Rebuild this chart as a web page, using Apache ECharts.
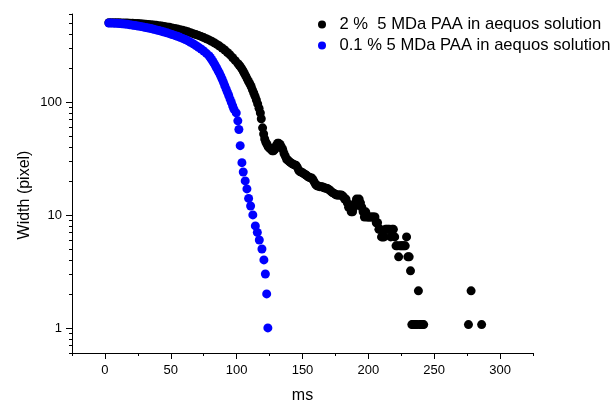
<!DOCTYPE html>
<html>
<head>
<meta charset="utf-8">
<script src="https://cdn.jsdelivr.net/npm/echarts@6/dist/echarts.min.js"></script>
<style>
  html, body { margin: 0; padding: 0; background: #fff; }
  #chart { width: 615px; height: 401px; }
</style>
</head>
<body>
<div id="chart"></div>
<script>
// Jet width versus time for two PAA solutions (log scale on width).
const seriesNames = [
  '2 %  5 MDa PAA in aequos solution',
  '0.1 % 5 MDa PAA in aequos solution'
];

// 2 % solution: time (ms) and width (pixel)
const blackTime = [
  3, 5, 7, 9, 11, 13, 15, 17, 19, 21, 23, 25, 27, 29, 31, 33, 35, 37, 39, 41,
  43, 45, 47, 49, 51, 53, 55, 57, 59, 61, 63, 65, 67, 69, 71, 73, 75, 77, 79, 81,
  83, 85, 87, 89, 91, 93, 95, 97, 99, 101,
  102, 103, 104, 105, 106, 107, 108, 109, 110, 111, 112, 113, 114, 115, 116, 117, 118,
  118.7, 119.7, 120.5, 121.3, 122.2, 123.1,
  124, 125, 126, 127, 128, 129, 130, 131, 132, 133, 134, 135, 136, 137, 138, 139, 140,
  141, 142, 143, 144, 145, 146, 147, 148, 149, 150, 151, 152, 153, 154, 155, 156, 157,
  158, 159, 160, 161, 162, 163, 164, 165, 166, 167, 168, 169, 170, 171, 172, 173, 174,
  175, 176, 177, 178, 179, 180, 181, 182, 183, 184, 185, 186, 187, 188, 189, 190, 191,
  192, 193, 194, 195, 196, 197, 198, 199, 200, 201, 202, 203, 204, 205, 206, 207, 208,
  209, 210, 211, 212, 213, 214, 215, 216, 217, 218, 219, 220, 221, 222, 223, 224, 225,
  226, 227, 228, 229, 230, 231, 232, 233, 234, 235, 236, 237, 238, 239, 240, 241, 242,
  276, 278, 286
];
const blackWidth = [
  502, 502, 502, 501, 501, 500, 500, 499, 498, 497, 495, 494, 492, 490, 488, 485, 482, 479, 476, 473,
  469, 465, 461, 457, 452, 447, 442, 436, 430, 424, 417, 410, 402, 395, 388, 380, 371, 362, 354, 344,
  334, 323, 312, 300, 288, 274, 261, 246, 232, 218,
  211, 204, 196, 187, 178, 169, 160, 152, 145, 137, 128, 120, 112, 104, 96, 88, 80,
  71, 59, 52, 47, 44, 42,
  40, 39, 38, 37, 37, 38, 41, 43, 43, 42, 40, 38, 35, 33, 31, 30.5, 29.6,
  29, 28.5, 28, 27.7, 27.5, 26.5, 25, 24.2, 24, 23.6, 23.2, 22.8, 22.4, 21.9, 21.5, 21.3, 21.2,
  20.5, 19.5, 18.6, 18.1, 18, 17.8, 17.8, 17.8, 17.5, 17.3, 17.2, 17.1, 16.8, 16.4, 16, 15.7, 15.5,
  15.2, 15, 15, 15, 15, 14.9, 14.5, 13.8, 13.8, 12.8, 11.7, 11.7, 10.65, 10.65, 11.7, 12.8, 13.8,
  12.8, 13.8, 12.8, 11.7, 10.65, 9.59, 10.65, 9.59, 9.59, 9.59, 9.59, 9.59, 9.59, 9.59, 8.52, 8.52, 7.46,
  7.46, 6.39, 6.39, 6.39, 7.46, 7.46, 7.46, 7.46, 6.39, 7.46, 7.46, 6.39, 5.33, 5.33, 4.26, 5.33, 5.33,
  5.33, 5.33, 5.33, 6.39, 4.26, 4.26, 3.2, 1.07, 1.07, 1.07, 1.07, 1.07, 2.13, 1.07, 1.07, 1.07, 1.07,
  1.07, 2.13, 1.07
];

// 0.1 % solution: time (ms) and width (pixel)
const blueTime = [
  3, 5, 7, 9, 11, 13, 15, 17, 19, 21, 23, 25, 27, 29, 31, 33, 35, 37, 39, 41,
  43, 45, 47, 49, 51, 53, 55, 57, 59, 61, 63, 65, 67, 69, 71, 73, 75, 77, 79,
  80, 81, 82, 83, 84, 85, 86, 87, 88, 89, 90, 91, 92, 93, 94, 95, 96, 97, 98,
  99.7, 100.9, 101.7, 102.7, 104.0, 105.0, 106.5, 107.8, 109.1, 110.6, 112.3,
  114.2, 115.7, 117.2, 119.2, 120.7, 121.8, 122.8, 123.7
];
const blueWidth = [
  500, 499, 498, 496, 494, 492, 489, 486, 482, 478, 474, 470, 466, 461, 456, 451, 446, 440, 434, 428,
  422, 415, 409, 402, 395, 388, 381, 373, 365, 356, 347, 337, 327, 316, 305, 294, 282, 269, 256,
  247, 238, 228, 218, 208, 198, 188, 179, 169, 159, 149, 139, 130, 122, 114, 106, 99, 92, 86,
  80, 68, 57, 41, 29, 24, 20, 17, 14, 12, 10,
  8, 7, 6, 5, 4, 3, 2, 1
];

// Axis ticks
const xMajorTicks = [0, 50, 100, 150, 200, 250, 300];
const xMinorTicks = [-25, 25, 75, 125, 175, 225, 275, 325];
const yMajorTicks = [1, 10, 100];
const yMinorTicks = [0.6, 0.7, 0.8, 0.9, 2, 3, 4, 5, 6, 7, 8, 9,
  20, 30, 40, 50, 60, 70, 80, 90, 200, 300, 400, 500, 600];

const X_MIN = -25, X_MAX = 325, Y_MIN = 0.6, Y_MAX = 600;
const FONT = '"Liberation Sans", Arial, Helvetica, sans-serif';

function zip(xs, ys) {
  return xs.map((x, i) => [x, ys[i]]);
}

const chart = echarts.init(document.getElementById('chart'), null, { renderer: 'canvas' });

const axisLineStyle = { color: '#000', width: 1 };

const option = {
  animation: false,
  backgroundColor: '#fff',
  grid: { left: 72, right: 82, top: 14, bottom: 48, outerBoundsMode: 'none', containLabel: false },
  legend: {
    orient: 'vertical',
    left: 318,
    top: 16,
    padding: 0,
    itemGap: 4,
    itemWidth: 25,
    itemHeight: 8,
    icon: 'circle',
    textStyle: { fontSize: 16.6, fontFamily: FONT, color: '#000' },
    data: seriesNames
  },
  xAxis: [
    {
      type: 'value',
      position: 'bottom',
      min: X_MIN,
      max: X_MAX,
      axisLine: { show: true, onZero: false, lineStyle: axisLineStyle },
      axisTick: { show: true, customValues: xMajorTicks, length: 6, lineStyle: axisLineStyle },
      axisLabel: { customValues: xMajorTicks, margin: 11, color: '#000', fontSize: 13, fontFamily: FONT },
      splitLine: { show: false },
      name: 'ms',
      nameLocation: 'middle',
      nameGap: 35,
      nameMoveOverlap: false,
      nameTextStyle: { fontSize: 16, fontFamily: FONT, color: '#000' }
    },
    {
      type: 'value',
      position: 'bottom',
      min: X_MIN,
      max: X_MAX,
      axisLine: { show: false, onZero: false },
      axisTick: { show: true, customValues: xMinorTicks, length: 3, lineStyle: axisLineStyle },
      axisLabel: { show: false },
      splitLine: { show: false }
    }
  ],
  yAxis: [
    {
      type: 'log',
      logBase: 10,
      position: 'left',
      min: Y_MIN,
      max: Y_MAX,
      axisLine: { show: true, onZero: false, lineStyle: axisLineStyle },
      axisTick: { show: true, customValues: yMajorTicks, length: 6, lineStyle: axisLineStyle },
      axisLabel: { customValues: yMajorTicks, margin: 10, color: '#000', fontSize: 13, fontFamily: FONT },
      splitLine: { show: false },
      name: 'Width (pixel)',
      nameLocation: 'middle',
      nameGap: 39,
      nameRotate: 90,
      nameMoveOverlap: false,
      nameTextStyle: { fontSize: 16, fontFamily: FONT, color: '#000', padding: [0, 23, 0, 0] }
    },
    {
      type: 'log',
      logBase: 10,
      position: 'left',
      min: Y_MIN,
      max: Y_MAX,
      axisLine: { show: false, onZero: false },
      axisTick: { show: true, customValues: yMinorTicks, length: 3, lineStyle: axisLineStyle },
      axisLabel: { show: false },
      splitLine: { show: false }
    }
  ],
  series: [
    {
      name: seriesNames[0],
      type: 'scatter',
      xAxisIndex: 0,
      yAxisIndex: 0,
      symbol: 'circle',
      symbolSize: 9,
      itemStyle: { color: '#000000', opacity: 1 },
      data: zip(blackTime, blackWidth)
    },
    {
      name: seriesNames[1],
      type: 'scatter',
      xAxisIndex: 0,
      yAxisIndex: 0,
      symbol: 'circle',
      symbolSize: 9,
      itemStyle: { color: '#0000ff', opacity: 1 },
      data: zip(blueTime, blueWidth)
    }
  ]
};

chart.setOption(option);
</script>
</body>
</html>
